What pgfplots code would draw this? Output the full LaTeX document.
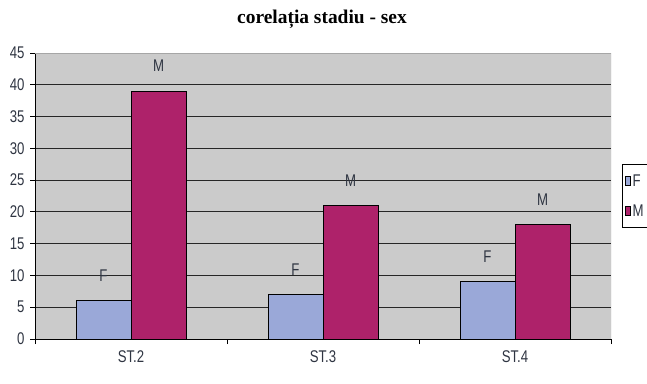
\documentclass[border=0pt]{standalone}
\usepackage{fontspec}
\setmainfont{Liberation Sans}
\newfontfamily\titlefont{Liberation Serif}
\usepackage{pgfplots}
\pgfplotsset{compat=1.18}
\definecolor{fcol}{HTML}{9AA8D8}
\definecolor{mcol}{HTML}{AE226A}
\definecolor{bg}{HTML}{CBCBCB}
\definecolor{txt}{HTML}{2F3542}
\newcommand{\lbl}{\fontsize{17}{19}\selectfont}
\newcommand{\nar}[1]{\scalebox{0.78}[1]{#1}}
\begin{document}
\begin{tikzpicture}[x=1bp,y=1bp]
\begin{axis}[
  at={(35bp,44bp)}, anchor=south west,
  scale only axis, width=576bp, height=286bp,
  ymin=0, ymax=45, ytick={0,5,...,45},
  yticklabel={\nar{\pgfmathprintnumber{\tick}}},
  xmin=-0.5, xmax=2.5,
  xtick={-0.5,0.5,1.5,2.5},
  x tick label as interval,
  xticklabels={\nar{ST.2},\nar{ST.3},\nar{ST.4}},
  /pgf/number format/assume math mode=true,
  tick align=outside,
  major tick length=5bp,
  tick style={draw=black, line width=0.8bp},
  axis background/.style={fill=bg},
  axis line style={draw=black, line width=0.9bp},
  ymajorgrids, grid style={draw=black!85, line width=0.9bp},
  axis x line*=bottom, axis y line*=left,
  xticklabel style={text=txt, font=\lbl, yshift=-3bp},
  yticklabel style={text=txt, font=\lbl, xshift=-2bp},
  ybar=0pt, bar width=55bp,
  legend style={at={(1,0.5)}, anchor=west, xshift=11bp, draw=black, fill=white,
    font=\lbl, text=txt, row sep=13bp, inner ysep=8bp, inner xsep=3bp},
  legend cell align=left,
  legend image code/.code={\draw[#1, line width=0.5bp] (0bp,-4.5bp) rectangle (5bp,4.5bp);},
]
\addplot[fill=fcol, draw=black, line width=0.9bp,
  nodes near coords={\nar{F}}, every node near coord/.append style={anchor=center, yshift=25bp, font=\lbl, text=txt}]
  coordinates {(0,6) (1,7) (2,9)};
\addplot[fill=mcol, draw=black, line width=0.9bp,
  nodes near coords={\nar{M}}, every node near coord/.append style={anchor=center, yshift=25bp, font=\lbl, text=txt}]
  coordinates {(0,39) (1,21) (2,18)};
\legend{\nar{F},\nar{M}}
\draw[draw=gray!70, line width=0.8bp] (rel axis cs:1,0) -- (rel axis cs:1,1) -- (rel axis cs:0,1);
\end{axis}
\node[font=\titlefont\bfseries\fontsize{19.5}{22}\selectfont] at (322,364) {corelația stadiu - sex};
\pgfresetboundingbox
\useasboundingbox (0,0) rectangle (647,383);
\end{tikzpicture}
\end{document}
